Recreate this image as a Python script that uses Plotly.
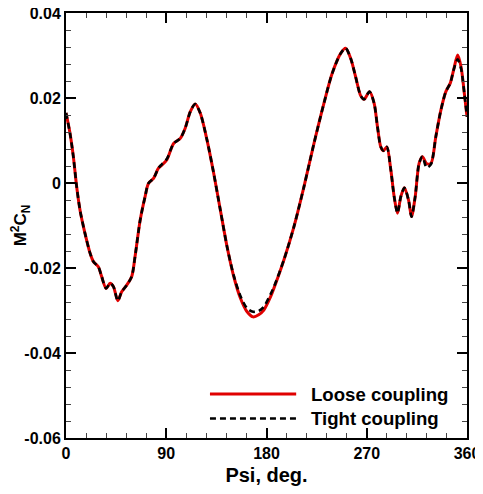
import plotly.graph_objects as go

psi = [0, 3.6, 6.6, 9.6, 12.6, 17, 21.6, 24.6, 29, 32, 36, 39.6, 42.6, 46.5, 50, 54.6, 59,
       62, 66.6, 71, 74, 78.6, 83, 86, 90.6, 96.6, 102.6, 107, 111.6, 116, 120.6, 126.6,
       132.6, 138.6, 144.6, 150.6, 156.6, 162.6, 168, 173, 177.6, 183.6, 186.6, 195.6,
       204.6, 213.6, 222.6, 231.6, 239, 246.6, 251, 255.6, 260, 264.6, 267.6, 272.5,
       276.6, 279.6, 282.6, 285, 288, 291.6, 294.6, 297.6, 300.6, 303.8, 307.5, 310.2,
       313.5, 317, 320, 323.7, 327.6, 332, 336.6, 341, 345, 348, 351.6, 354.6, 357.6, 360]

loose = [0.0165, 0.0117, 0.0062, -0.0009, -0.0064, -0.0118, -0.0165, -0.0185, -0.0197,
         -0.0220, -0.0248, -0.0236, -0.0244, -0.0277, -0.0256, -0.0240, -0.0220, -0.0173,
         -0.0087, -0.0032, -0.0001, 0.0011, 0.0035, 0.0042, 0.0055, 0.0093, 0.0105, 0.0129,
         0.0168, 0.0186, 0.0164, 0.0101, 0.0023, -0.0064, -0.0150, -0.0220, -0.0271,
         -0.0303, -0.0315, -0.0310, -0.0299, -0.0268, -0.0248, -0.0181, -0.0103, -0.0009,
         0.0093, 0.0188, 0.0258, 0.0305, 0.0317, 0.0293, 0.0250, 0.0205, 0.0197, 0.0215,
         0.0188, 0.0133, 0.0085, 0.0076, 0.0085, 0.0031, -0.0032, -0.0071, -0.0032,
         -0.0011, -0.0040, -0.0079, -0.0032, 0.0046, 0.0062, 0.0046, 0.0046, 0.0109,
         0.0172, 0.0215, 0.0235, 0.0266, 0.0301, 0.0274, 0.0211, 0.0156]

tight = [0.0165, 0.0117, 0.0062, -0.0009, -0.0064, -0.0118, -0.0165, -0.0185, -0.0197,
         -0.0220, -0.0248, -0.0236, -0.0244, -0.0277, -0.0256, -0.0240, -0.0220, -0.0173,
         -0.0087, -0.0032, -0.0001, 0.0011, 0.0035, 0.0044, 0.0057, 0.0093, 0.0105, 0.0129,
         0.0168, 0.0186, 0.0164, 0.0101, 0.0023, -0.0064, -0.0150, -0.0218, -0.0266,
         -0.0295, -0.0303, -0.0301, -0.0291, -0.0262, -0.0245, -0.0181, -0.0103, -0.0009,
         0.0093, 0.0188, 0.0258, 0.0305, 0.0317, 0.0293, 0.0250, 0.0205, 0.0197, 0.0215,
         0.0188, 0.0133, 0.0085, 0.0076, 0.0085, 0.0031, -0.0032, -0.0071, -0.0032,
         -0.0011, -0.0040, -0.0079, -0.0032, 0.0046, 0.0062, 0.0036, 0.0044, 0.0109,
         0.0172, 0.0215, 0.0235, 0.0266, 0.0291, 0.0270, 0.0211, 0.0156]

series_names = ["Loose coupling", "Tight coupling"]
x_ticks = [0, 90, 180, 270, 360]
y_ticks = [-0.06, -0.04, -0.02, 0, 0.02, 0.04]
y_ticktext = ["-0.06", "-0.04", "-0.02", "0", "0.02", "0.04"]

FONT = "Liberation Sans, Arial, Helvetica, sans-serif"

fig = go.Figure()
fig.add_trace(go.Scatter(x=psi, y=loose, mode="lines", name=series_names[0],
                         line=dict(color="#e00000", width=3, shape="spline", smoothing=0.8),
                         showlegend=False))
fig.add_trace(go.Scatter(x=psi, y=tight, mode="lines", name=series_names[1],
                         line=dict(color="black", width=2.6, dash="6px,4px", shape="spline", smoothing=0.8),
                         showlegend=False))

# custom legend (long line samples like the reference)
legend_styles = [dict(color="#e00000", width=3), dict(color="black", width=2.6, dash="6px,4px")]
legend_y = [0.1035, 0.046]
for name, st, yy in zip(series_names, legend_styles, legend_y):
    fig.add_shape(type="line", xref="paper", yref="paper", x0=0.359, x1=0.574, y0=yy, y1=yy,
                  line=st)
    fig.add_annotation(xref="paper", yref="paper", x=0.606, y=yy, xanchor="left", yanchor="middle",
                       text=name, showarrow=False,
                       font=dict(family=FONT, size=18.6, color="black", weight="bold"))

axis_common = dict(showline=True, linecolor="black", linewidth=2, mirror="allticks",
                   ticks="inside", ticklen=10, tickwidth=2, tickcolor="black",
                   showgrid=False, zeroline=False, automargin=False,
                   ticklabeloverflow="allow",
                   tickfont=dict(family=FONT, size=16, color="black", weight="bold"))

fig.update_xaxes(range=[0, 360], tickmode="array", tickvals=x_ticks,
                 minor=dict(tickmode="linear", tick0=0, dtick=18, ticks="inside", ticklen=5,
                            tickwidth=1, tickcolor="#444", showgrid=False),
                 title=dict(text="Psi, deg.", standoff=7,
                            font=dict(family=FONT, size=20, color="black", weight="bold")),
                 **axis_common)
fig.update_yaxes(range=[-0.06, 0.04], tickmode="array", tickvals=y_ticks, ticktext=y_ticktext,
                 minor=dict(tickmode="linear", tick0=0, dtick=0.004, ticks="inside", ticklen=5,
                            tickwidth=1, tickcolor="#444", showgrid=False),
                 title=dict(text="M<sup>2</sup>C<sub>N</sub>", standoff=0,
                            font=dict(family=FONT, size=17, color="black", weight="bold")),
                 **axis_common)

# the page body adds an 8px offset; size the figure so the plot area lands where the reference has it
fig.update_layout(width=475, height=478, margin=dict(l=58, r=16, t=5, b=48),
                  plot_bgcolor="white", paper_bgcolor="white", showlegend=False)

fig.write_html("out.html")
